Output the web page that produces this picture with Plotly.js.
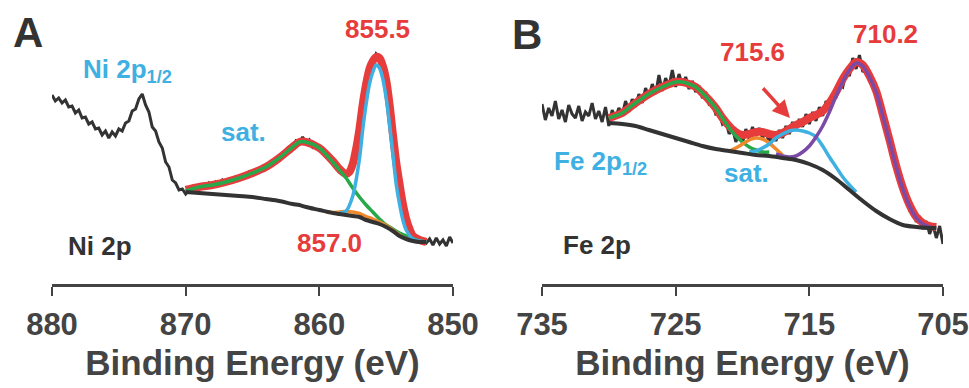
<!DOCTYPE html>
<html><head><meta charset="utf-8">
<script src="https://cdn.plot.ly/plotly-3.0.1.min.js"></script>
<style>html,body{margin:0;padding:0;background:#fff}#c{width:969px;height:388px}</style>
</head><body><div id="c"></div>
<script>
// ---------- Panel A : Ni 2p ----------
const niE = [880,879.75,879.5,879.25,879,878.75,878.5,878.25,878,877.75,877.5,877.25,877,876.75,876.5,876.25,876,875.75,875.5,875.25,875,874.75,874.5,874.25,874,873.75,873.5,873.25,873,872.75,872.5,872.25,872,871.75,871.5,871.25,871,870.75,870.5,870.25,870,869.75,869.5,869.25,869,868.75,868.5,868.25,868,867.75,867.5,867.25,867,866.75,866.5,866.25,866,865.75,865.5,865.25,865,864.75,864.5,864.25,864,863.75,863.5,863.25,863,862.75,862.5,862.25,862,861.75,861.5,861.25,861,860.75,860.5,860.25,860,859.75,859.5,859.25,859,858.75,858.5,858.25,858,857.75,857.5,857.25,857,856.75,856.5,856.25,856,855.75,855.5,855.25,855,854.75,854.5,854.25,854,853.75,853.5,853.25,853,852.75,852.5,852.25,852,851.75,851.5,851.25,851,850.75,850.5,850.25,850];
const niRaw = [189,183,186,181,184,177,178,171,174,166,167,160,162,155,156,149,153,146,152,148,155,153,161,163,173,175,185,190,179,172,157,153,142,136,122,117,104,101,94,95,90,94,93,97,95,99,96,101,98,102,99,104,101,105,103,107,105,109,107,112,110,114,112,117,116,121,119,125,125,131,130,136,136,143,141,147,141,144,137,140,134,135,127,128,120,120,112,113,108,114,119,137,154,181,199,216,221,230,226,219,204,181,149,121,99,79,64,56,47,47,43,44,41,45,39,46,40,44,38,47,41];
const niFitE = [870,869,868,867,866,865,864,863,862,861.5,861,860,859,858.5,858,857.5,857,856.5,856,855.5,855,854.5,854,853.5,853,852.5,852];
const niBase = [92,91,90,89,88,87,85,83,80,79,77,74,71,70,69,68,67,64,62,60,57,53,48,45,43,42,42];
const niSat  = [93,97,99,102,106,111,117,126,137,142,142,136,122,114,106,96,87,79,72,65,59,55,51,48,45,43,42];
const niOrE  = [859.5,859,858.5,858,857.5,857,856.5,856,855.5,855,854.5,854,853.5,853];
const niOr   = [72,71.5,72,72.5,72,70.5,67.5,65,62,58.5,54,49,45.5,43.5];
const niBlE  = [858.5,858,857.5,857,856.75,856.5,856.25,856,855.75,855.5,855.25,855,854.75,854.5,854.25,854,853.75,853.5,853,852.5,852];
const niBl   = [71,73,88,125,155,180,200,212,219,216,205,186,160,130,100,80,64,54,45,43,42];
const niEnvE = [870,869,868,867,866,865,864,863,862,861.5,861,860,859,858.5,858,857.75,857.5,857.25,857,856.75,856.5,856.25,856,855.75,855.5,855.25,855,854.75,854.5,854.25,854,853.75,853.5,853.25,853,852.5,852];
const niEnv  = [94,97,99,102,106,111,117,126,137,142,142,136,123,115,110,112,120,135,155,180,200,215,223,227,226,218,204,180,150,122,100,80,65,55,48,44,42];

// ---------- Panel B : Fe 2p ----------
const feE = [735,734.75,734.5,734.25,734,733.75,733.5,733.25,733,732.75,732.5,732.25,732,731.75,731.5,731.25,731,730.75,730.5,730.25,730,729.75,729.5,729.25,729,728.75,728.5,728.25,728,727.75,727.5,727.25,727,726.75,726.5,726.25,726,725.75,725.5,725.25,725,724.75,724.5,724.25,724,723.75,723.5,723.25,723,722.75,722.5,722.25,722,721.75,721.5,721.25,721,720.75,720.5,720.25,720,719.75,719.5,719.25,719,718.75,718.5,718.25,718,717.75,717.5,717.25,717,716.75,716.5,716.25,716,715.75,715.5,715.25,715,714.75,714.5,714.25,714,713.75,713.5,713.25,713,712.75,712.5,712.25,712,711.75,711.5,711.25,711,710.75,710.5,710.25,710,709.75,709.5,709.25,709,708.75,708.5,708.25,708,707.75,707.5,707.25,707,706.75,706.5,706.25,706,705.75,705.5,705.25,705];
const feRaw = [180,164,176,168,183,165,174,162,179,170,166,178,163,172,168,181,165,173,162,177,158,174,166,176,169,183,172,185,177,190,181,196,187,200,190,209,193,206,198,214,197,210,199,207,195,203,192,198,186,192,180,182,170,171,160,163,150,156,142,152,141,155,145,157,148,156,146,153,141,152,143,154,146,158,150,162,154,165,157,170,160,172,163,177,168,183,176,190,186,200,197,212,208,226,215,229,212,216,203,202,188,184,164,158,138,132,112,108,91,88,74,76,62,68,55,63,50,59,46,58,40];
const feBaseE = [730,729,728,727,726,725,724,723,722,721,720,719,718,717,716,715,714,713,712,711,710,709,708,707,706,705.5];
const feBase  = [161,160,158,154,150,146,142,138,135,133,131,129,128,126,124,120,114,105,94,83,73,65,59,57,56,56];
const feSatE = [730,729,728.4,728,727,726,725,724.5,724,723.5,723,722.5,722,721.5,721,720.5,720,719.5,719,718.5,718];
const feSat  = [166,171,177,181,190,197,202,202,200,197,191,184,176,166,156,148,142,137,134,132,132];
const feOrE = [721,720.5,720,719.5,719,718.5,718,717.5,717];
const feOr  = [133,136,140,144,146,145,141,135,129];
const feBlE = [719.5,719,718.5,718,717.5,717,716.5,716,715.5,715,714.5,714,713.5,713,712.5,712,711.5];
const feBl  = [132,133,136,140,146,150,153,154,153,151,147,138,127,117,107,99,92];
const fePuE = [717.5,717,716.5,716,715.5,715,714.5,714,713.5,713,712.5,712,711.5,711,710.5,710,709.5,709,708.5,708,707.5,707,706.5,706,705.5];
const fePu  = [130,128,127,128,132,138,147,158,172,188,202,214,221,218,207,192,168,143,117,95,78,66,60,57,56];
const feEnvE = [730,729,728,727,726,725,724.5,724,723.5,723,722.5,722,721.5,721,720.5,720,719.5,719,718.5,718,717.5,717,716.5,716,715.5,715,714.5,714,713.5,713,712.5,712,711.5,711,710.5,710,709.5,709,708.5,708,707.5,707,706.5,706,705.5];
const feEnv  = [166,171,181,190,197,202,202,200,197,191,184,176,166,158,152,149,150,152,152,150,149,151,155,159,162,166,169,173,181,192,205,215,222,219,208,193,169,144,118,96,79,67,61,58,57];

const xTicksA = [880,870,860,850];
const xTicksB = [735,725,715,705];

const RED='#e63c3c', BLUE='#3fb0e2', GREEN='#27a84a', ORANGE='#f0892c', PURPLE='#7a4aa6', DARK='#333333';

function ln(x,y,color,width,xa,ya,shape){
  return {x:x,y:y,xaxis:xa,yaxis:ya,type:'scatter',mode:'lines',
    line:{color:color,width:width,shape:shape||'spline',smoothing:0.8},hoverinfo:'skip',showlegend:false};
}
const data = [
  ln(niE,niRaw,DARK,3,'x','y','linear'),
  ln(niEnvE,niEnv,RED,8,'x','y'),
  ln(niFitE,niSat,GREEN,3.5,'x','y'),
  ln(niOrE,niOr,ORANGE,3.5,'x','y'),
  ln(niBlE,niBl,BLUE,3.5,'x','y'),
  ln(niFitE,niBase,DARK,4,'x','y'),
  ln(feE,feRaw,DARK,3,'x2','y2','linear'),
  ln(feEnvE,feEnv,RED,8,'x2','y2'),
  ln(feSatE,feSat,GREEN,3.5,'x2','y2'),
  ln(feOrE,feOr,ORANGE,3.5,'x2','y2'),
  ln(feBlE,feBl,BLUE,3.5,'x2','y2'),
  ln(fePuE,fePu,PURPLE,3.5,'x2','y2'),
  ln(feBaseE,feBase,DARK,4,'x2','y2'),
];

const W=969, PH=284;
function ax(px,py){return {x:px/W, y:(PH-py)/PH};}
function lab(text,px,py,color,size){
  const p=ax(px,py);
  return {xref:'paper',yref:'paper',x:p.x,y:p.y,text:text,showarrow:false,xanchor:'center',yanchor:'middle',
    font:{family:'Liberation Sans, Arial, sans-serif',size:size,color:color,weight:'bold'}};
}
const annotations = [
  lab('A',28,33,DARK,42),
  lab('B',527,35,DARK,42),
  lab('Ni 2p<sub>1/2</sub>',127,70,BLUE,26),
  lab('855.5',377,29,RED,26),
  lab('sat.',243,132,BLUE,26),
  lab('857.0',329,243,RED,26),
  lab('Ni 2p',100,246,DARK,26),
  lab('Fe 2p<sub>1/2</sub>',600,162,BLUE,26),
  lab('sat.',746,173,BLUE,26),
  lab('715.6',752,52,RED,26),
  lab('710.2',885,34,RED,26),
  lab('Fe 2p',597,245,DARK,26),
];
const head=ax(790,118);
annotations.push({xref:'paper',yref:'paper',x:head.x,y:head.y,ax:-30,ay:-33,text:' ',showarrow:true,
  arrowhead:2,arrowsize:1,arrowwidth:3.5,arrowcolor:RED});

function xax(domain,range,ticks,anchor){
  return {domain:domain,range:range,anchor:anchor,tickmode:'array',tickvals:ticks,ticktext:ticks.map(String),
    showgrid:false,zeroline:false,showline:true,linecolor:'#444',linewidth:2.5,
    ticks:'outside',ticklen:9,tickwidth:2,tickcolor:'#444',ticklabelstandoff:2,
    tickfont:{family:'Liberation Sans, Arial, sans-serif',size:31,color:'#444',weight:'bold'},
    title:{text:'Binding Energy (eV)',standoff:10,font:{family:'Liberation Sans, Arial, sans-serif',size:35,color:'#444',weight:'bold'}}};
}
function yax(anchor){return {domain:[0,1],range:[0,PH],visible:false,anchor:anchor,fixedrange:true};}
const layout = {
  width:969,height:388,margin:{l:0,r:0,t:0,b:388-PH,pad:0},
  paper_bgcolor:'#fff',plot_bgcolor:'#fff',showlegend:false,
  xaxis:xax([52/W,453/W],[880,850],xTicksA,'y'),
  yaxis:yax('x'),
  xaxis2:xax([542/W,943/W],[735,705],xTicksB,'y2'),
  yaxis2:yax('x2'),
  annotations:annotations
};
Plotly.newPlot('c',data,layout,{staticPlot:true,displayModeBar:false});
</script></body></html>
